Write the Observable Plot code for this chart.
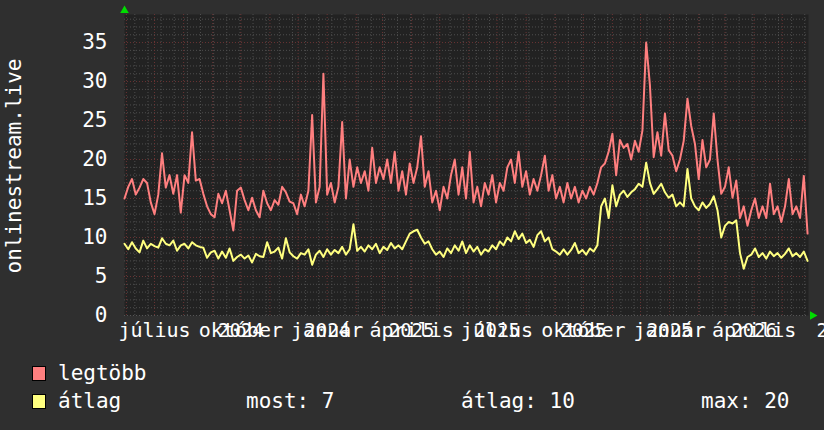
<!DOCTYPE html>
<html><head><meta charset="utf-8">
<script src="https://cdn.jsdelivr.net/npm/d3@7"></script>
<script src="https://cdn.jsdelivr.net/npm/@observablehq/plot@0.6"></script>
<style>
html,body{margin:0;padding:0;background:#2f2f2f;}
body{width:824px;height:430px;overflow:hidden;position:relative;font-family:"DejaVu Sans Mono",monospace;color:#ffffff;}
#chart{position:absolute;left:0;top:0;}
.lg{position:absolute;font-size:21px;line-height:21px;white-space:pre;color:#fff;}
.sw{position:absolute;width:14px;height:15px;border:1px solid #000;box-sizing:border-box;}
</style></head>
<body><div id="chart"></div><div id="legend"></div>
<script>
// ---- data ----
const startDate = "2024-05-30";
const endDate = "2026-05-29";
const stepDays = 4;
const maxValues = [15,16.5,17.5,15.5,16.4,17.5,17,14.5,13,15.5,20.8,16.4,18,15.6,18,13.2,18,17,23.5,17.3,
17.5,15.6,14,13,12.6,15.6,14.4,16,13.5,10.9,16,16.4,14.8,13.5,15.1,13.5,12.6,16,14.4,13.5,
14.8,14.2,16.5,15.8,14.6,14.4,13,15.5,14,16,25.7,14.5,16.5,31,15.5,17,14.5,16.5,24.8,15,
20,16.5,19,17,18.5,16,21.5,17,19,17.5,20,17,21,16,18.5,15.5,19.5,17,19,23,
16.5,18.5,14.5,16,13.5,16.5,15,18,20,15.5,19,15,21,14.5,16.5,14,17,15.5,18,14.5,
17,16,19,20,17,21,16.5,18.5,15.5,17.5,16,18,20.5,16,18,15,16.5,14.5,17,15,
16.5,14.5,16,15,16.5,15.5,17,19,19.5,21,23.3,18,22.5,21.5,22,20,22.4,21,23.7,35,
29.5,20.3,23.5,20.5,25.9,21.2,20.5,18.5,20,22.4,27.8,24.3,22,17.5,22.5,19,20,25.9,20,15.6,
16.5,19,15.1,17.3,12.5,14,11.5,13.5,15,12.5,14,12.5,16.9,13,14,12,14,17.5,13,14,
12.5,17.9,10.5];
const avgValues = [9.2,8.5,9.4,8.6,8.1,9.6,8.6,9.2,8.9,8.7,9.9,9.2,9,9.6,8.3,9,9.2,8.6,9.4,9,
8.8,8.7,7.4,8.1,8.3,7.3,8.2,7.4,8.6,7,7.5,7.8,7.3,7.7,6.8,7.9,7.6,7.5,9.4,8,
8.2,8.7,7.3,9.9,8.1,7.6,7.3,8,7.8,8.5,6.5,7.8,8.3,7.5,8.5,7.8,8.4,8,8.8,7.8,
8.5,11.7,8.3,8.8,8.2,9,8.5,9.2,8,8.8,8.4,9.3,8.6,9,8.5,9.5,10.5,10.8,11,10,
9.2,9.5,8.5,7.8,8.2,7.5,8.6,8,9,8.3,9.5,8,9,8.2,8.8,7.8,8.5,8.2,9,8.5,
9.5,9,10,9.5,10.8,9.8,10.5,9.3,9.7,8.8,10.3,10.8,9.5,10,8.5,8.2,7.8,8.5,7.8,8.4,
9.3,8,8.4,7.8,8.6,8.2,9,14,15,12.5,16.7,14,15.5,16,15.2,15.8,16.2,16.9,16.5,19.6,
17,15.6,16.2,16.9,15.8,15.1,15.5,14,14.5,14,18.8,15,14,13.5,14.5,13.8,14.3,15.3,13.5,10,
11.5,12,11.8,12.2,8,6,7.5,7.8,8.6,7.5,8,7.3,8.2,7.6,8,7.4,7.9,8.6,7.6,8,
7.5,8.2,7];
const monthTickDates = ["2024-07-01","2024-10-01","2025-01-01","2025-04-01","2025-07-01","2025-10-01","2026-01-01","2026-04-01"];
const monthTickLabels = ["július","október","január","április","július","október","január","április"];
const yearTickDates = ["2024-10-01","2025-01-01","2025-04-01","2025-07-01","2025-10-01","2026-01-01","2026-04-01","2026-07-01"];
const yearTickLabels = ["2024","2024","2025","2025","2025","2025","2026","2026"];
const yTicks = [0,5,10,15,20,25,30,35];
const yMax = 38.6;
const yTitle = "onlinestream.live";
const seriesNames = ["legtöbb","átlag"];
const seriesColors = ["#ff7f7f","#ffff7f"];
const statsLabels = ["most: 7","átlag: 10","max: 20"];

// ---- build ----
const t0 = new Date(startDate), t1 = new Date(endDate);
const mk = vals => vals.map((v,i)=>({date:d3.utcDay.offset(t0,i*stepDays), v}));
const maxData = mk(maxValues), avgData = mk(avgValues);
const minorY = d3.range(0, 39).filter(d=>d%5!==0);
const majorY = d3.range(5, 39, 5);
const minorX = d3.utcDay.range(new Date("2024-06-10"), t1, 14);
const majorX = d3.utcMonth.range(t0, t1);
const font = "DejaVu Sans Mono";

const chart = Plot.plot({
  width: 824, height: 345,
  marginLeft: 124, marginRight: 16, marginTop: 14, marginBottom: 30,
  style: {background: "transparent", fontFamily: font, color: "#fff", overflow: "visible"},
  x: {type: "utc", domain: [t0, t1], axis: null},
  y: {domain: [0, yMax], axis: null},
  marks: [
    Plot.frame({fill: "#222222", stroke: null}),
    Plot.ruleY(minorY, {stroke: "#4e4e4e", strokeDasharray: "1,2"}),
    Plot.ruleX(minorX, {stroke: "#4e4e4e", strokeDasharray: "1,2"}),
    Plot.ruleY(majorY, {stroke: "#6a3434", strokeDasharray: "1,2"}),
    Plot.ruleX(majorX, {stroke: "#6a3434", strokeDasharray: "1,2", y1: 0, y2: yMax}),
    Plot.ruleY([0], {stroke: "#555555", strokeDasharray: "1,2"}),
    Plot.line(maxData, {x: "date", y: "v", stroke: seriesColors[0], strokeWidth: 2}),
    Plot.line(avgData, {x: "date", y: "v", stroke: seriesColors[1], strokeWidth: 2}),
    Plot.text(yTicks, {x: () => t0, y: d => d, text: d => String(d), textAnchor: "end", dx: -17, fontSize: 21, fill: "#ffffff", fontFamily: font}),
    Plot.text(monthTickDates, {x: d => new Date(d), y: () => 0, text: (d,i) => monthTickLabels[i], dy: 15, fontSize: 20, fill: "#ffffff", fontFamily: font}),
    Plot.text(yearTickDates, {x: d => new Date(d), y: () => 0, text: (d,i) => yearTickLabels[i], dy: 15, fontSize: 19, fill: "#ffffff", fontFamily: font}),
    Plot.text([yTitle], {frameAnchor: "left", textAnchor: "middle", rotate: -90, dx: -110, dy: 1, fontSize: 21, fill: "#ffffff", fontFamily: font}),
    Plot.dot([yMax], {x: () => t0, y: d => d, symbol: "triangle", r: 3.2, fill: "#00dd00", stroke: null, dy: -4}),
    Plot.dot([0], {x: () => t1, y: d => d, symbol: "triangle", r: 3.2, fill: "#00dd00", stroke: null, rotate: 90, dx: 4})
  ]
});
document.getElementById("chart").appendChild(chart);

// legend
const lg = document.getElementById("legend");
const rows = [{y: 366}, {y: 394}];
seriesNames.forEach((n,i)=>{
  const s = document.createElement("div"); s.className = "sw";
  s.style.left = "32px"; s.style.top = rows[i].y + "px"; s.style.background = seriesColors[i];
  lg.appendChild(s);
  const t = document.createElement("div"); t.className = "lg";
  t.style.left = "58px"; t.style.top = (rows[i].y - 3) + "px"; t.textContent = n;
  lg.appendChild(t);
});
const statX = [246, 461, 701];
statsLabels.forEach((s,i)=>{
  const t = document.createElement("div"); t.className = "lg";
  t.style.left = statX[i] + "px"; t.style.top = (rows[1].y - 3) + "px"; t.textContent = s;
  lg.appendChild(t);
});
</script>
</body></html>
